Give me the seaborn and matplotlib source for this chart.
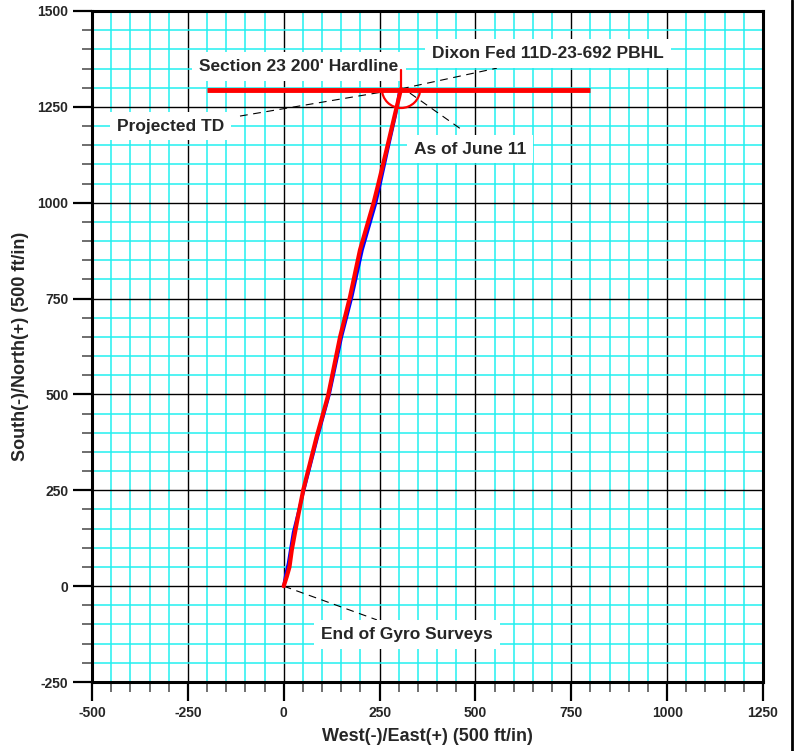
import pandas as pd
import numpy as np
import matplotlib
matplotlib.use('Agg')
import matplotlib.pyplot as plt
from matplotlib.patches import Arc
from matplotlib.lines import Line2D
from matplotlib.ticker import MultipleLocator
import seaborn as sns

# ===== 数据：井眼轨迹（单位 ft） =====
# 实测轨迹（蓝）
survey_ew = [0, 5, 12, 25, 50, 90, 119, 151, 178, 205, 240, 252, 271, 292, 301]
survey_ns = [0, 30, 60, 140, 240, 395, 500, 650, 755, 877, 998, 1050, 1137, 1230, 1285]
# 设计/预测轨迹（红）
plan_ew = [0, 8, 15, 21, 35, 51, 86, 116, 147, 173, 199, 234, 247, 268, 290, 306]
plan_ns = [0, 25, 50, 94, 170, 251, 390, 498, 650, 755, 877, 998, 1050, 1137, 1230, 1297]

# 200' 边界线 与 靶点
hardline_ew = [-200, 800]
hardline_ns = [1295, 1295]
target_ew, target_ns = 306, 1297

# 标注文字、文字中心、引线端点
label_text = ["Section 23 200' Hardline", "Dixon Fed 11D-23-692 PBHL", "Projected TD",
              "As of June 11", "End of Gyro Surveys"]
label_xy = [(40, 1356), (689, 1388), (-296, 1200), (486, 1140), (322, -125)]
leader_xy = [None, [(306, 1297), (556, 1351)], [(-114, 1226), (306, 1297)],
             [(329, 1286), (465, 1190)], [(0, 0), (243, -88)]]

x_ticks = [-500, -250, 0, 250, 500, 750, 1000, 1250]
y_ticks = [-250, 0, 250, 500, 750, 1000, 1250, 1500]

sns.set_style("white")
plt.rcParams['font.family'] = ['Liberation Sans', 'DejaVu Sans']
plt.rcParams['font.weight'] = 'bold'
plt.rcParams['axes.unicode_minus'] = False

fig = plt.figure(figsize=(7.96, 7.51), dpi=100)
ax = fig.add_axes([92/796, 1-682/751, 671/796, 671/751])

# 网格：50ft 青色细线，250ft 黑线
ax.xaxis.set_major_locator(MultipleLocator(250))
ax.yaxis.set_major_locator(MultipleLocator(250))
ax.xaxis.set_minor_locator(MultipleLocator(50))
ax.yaxis.set_minor_locator(MultipleLocator(50))
ax.grid(which='minor', color='#22f0f0', lw=1.1, zorder=0)
ax.grid(which='major', color='black', lw=1.0, zorder=0)
ax.set_axisbelow(True)

ax.set_xlim(-500, 1250)
ax.set_ylim(-250, 1500)
ax.set_xticks(x_ticks)
ax.set_yticks(y_ticks)
ax.tick_params(which='major', direction='out', length=14, width=1.6, color='black',
               labelsize=10, pad=3, bottom=True, left=True)
ax.tick_params(which='minor', direction='out', length=7, width=1.2, color='#555555',
               bottom=True, left=True)
for lab in ax.get_xticklabels() + ax.get_yticklabels():
    lab.set_fontweight('bold')
for s in ax.spines.values():
    s.set_linewidth(2.2)
    s.set_color('black')

# 轨迹
df_survey = pd.DataFrame({'ew': survey_ew, 'ns': survey_ns})
df_plan = pd.DataFrame({'ew': plan_ew, 'ns': plan_ns})
sns.lineplot(data=df_survey, x='ew', y='ns', sort=False, color='blue', lw=2.2, ax=ax, zorder=4)
sns.lineplot(data=df_plan, x='ew', y='ns', sort=False, color='red', lw=3.0, ax=ax, zorder=5)

# 边界线
ax.plot(hardline_ew, hardline_ns, color='red', lw=3.5, zorder=5, solid_capstyle='butt')

# 靶点符号
ax.plot([target_ew, target_ew], [target_ns, target_ns + 50], color='red', lw=1.6, zorder=6)
ax.add_patch(Arc((target_ew, target_ns), 100, 100, theta1=180, theta2=360,
                 color='red', lw=1.6, zorder=6))

# 标注与引线
for txt, (lx, ly), ld in zip(label_text, label_xy, leader_xy):
    if ld is not None:
        (x0, y0), (x1, y1) = ld
        ax.plot([x0, x1], [y0, y1], color='black', lw=0.8, ls=(0, (7, 5)), zorder=3)
    ax.text(lx, ly, txt, ha='center', va='center', fontsize=12.5, fontweight='bold',
            zorder=3.5, bbox=dict(facecolor='white', edgecolor='none', pad=5))

ax.set_xlabel('West(-)/East(+) (500 ft/in)', fontsize=13, fontweight='bold', labelpad=6)
ax.set_ylabel('South(-)/North(+) (500 ft/in)', fontsize=13, fontweight='bold', labelpad=6)

# 页面右侧边框线
fig.add_artist(Line2D([792/796, 792/796], [0, 1], color='black', lw=2))

fig.savefig('out.png', dpi=100)
